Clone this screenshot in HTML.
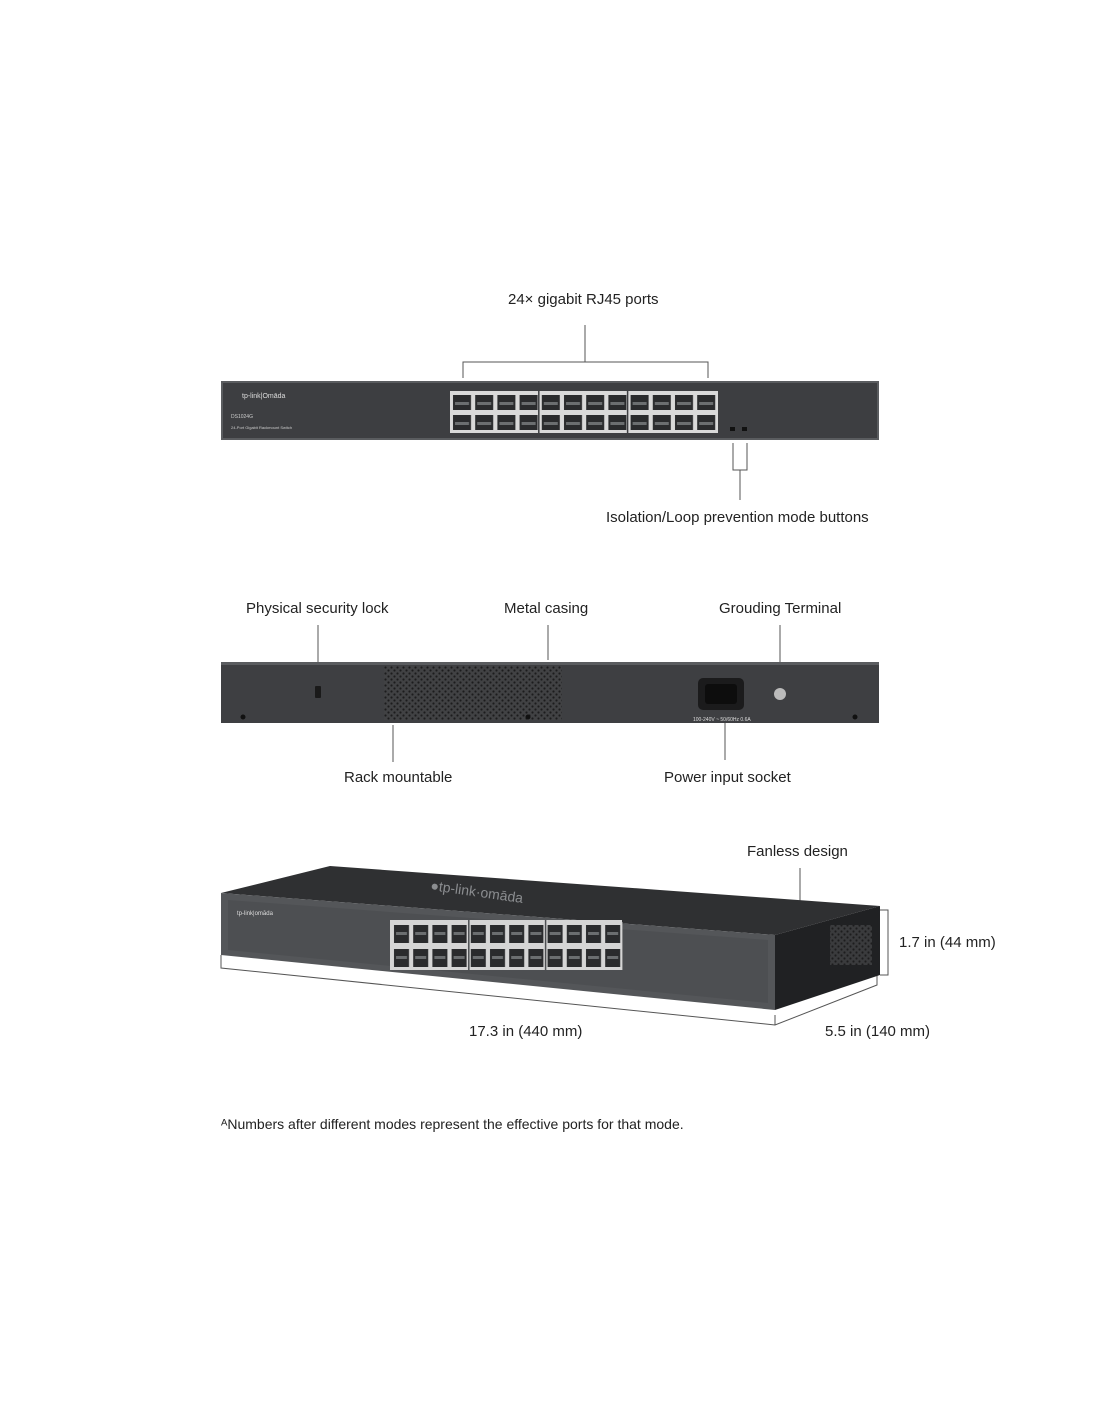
<!DOCTYPE html>
<html><head><meta charset="utf-8"><style>
html,body{margin:0;padding:0;background:#fff;}
body{width:1100px;height:1422px;position:relative;overflow:hidden;font-family:"Liberation Sans",sans-serif;color:#222;}
.l{position:absolute;font-size:15px;white-space:nowrap;}
svg{position:absolute;left:0;top:0;}
</style></head><body>
<svg width="1100" height="1422" viewBox="0 0 1100 1422">
<defs>
<pattern id="pf" x="451" y="393" width="22.2" height="20" patternUnits="userSpaceOnUse">
<rect x="0" y="0" width="22.2" height="20" fill="#d9d9d9"/>
<rect x="2" y="2" width="18" height="15" fill="#2a2b2d"/>
<rect x="4" y="9" width="14" height="3" fill="#6b6e70"/>
</pattern>
<pattern id="p3" x="392" y="922" width="19.2" height="24" patternUnits="userSpaceOnUse">
<rect x="0" y="0" width="19.2" height="24" fill="#d5d5d5"/>
<rect x="2" y="3" width="15" height="18" fill="#2a2b2d"/>
<rect x="4" y="10" width="11" height="3" fill="#6b6e70"/>
</pattern>
<pattern id="hex" x="0" y="0" width="6" height="6" patternUnits="userSpaceOnUse">
<rect width="6" height="6" fill="#414244"/>
<circle cx="1.5" cy="1.5" r="1.1" fill="#1c1c1d"/>
<circle cx="4.5" cy="4.5" r="1.1" fill="#1c1c1d"/>
</pattern>
</defs>
<g stroke="#555" stroke-width="1" fill="none">
<!-- top bracket -->
<path d="M585 325V362M463 378V362H708V378"/>
<path d="M733 443V470H747V443M740 470V500"/>
<path d="M318 625V685M548 625V660M780 625V688M393 725V762M725 715V760"/>
<path d="M800 868V925"/>
<path d="M880 910H888V975H880"/>
<path d="M221 955V968L775 1025L877 985V975M775 1015V1025"/>
</g>
<!-- front panel -->
<rect x="221" y="381" width="658" height="59" fill="#5a5c5f"/>
<rect x="223" y="383" width="654" height="55" fill="#3d3e41"/>
<rect x="450" y="391" width="268" height="42" fill="#d9d9d9"/>
<rect x="451" y="393" width="266.4" height="40" fill="url(#pf)"/>
<path d="M538.8 391V433M627.6 391V433" stroke="#3d3e41" stroke-width="1.5"/>
<text x="242" y="398" font-size="7" fill="#ddd">tp-link|Omāda</text>
<text x="231" y="418" font-size="5" fill="#ccc">DS1024G</text>
<text x="231" y="429" font-size="4" fill="#ccc">24-Port Gigabit Rackmount Switch</text>
<rect x="730" y="427" width="5" height="4" fill="#111"/><rect x="742" y="427" width="5" height="4" fill="#111"/>
<!-- rear panel -->
<rect x="221" y="662" width="658" height="61" fill="#3e3f42"/>
<rect x="221" y="662" width="658" height="3" fill="#5a5c5f"/>
<rect x="384" y="666" width="178" height="54" fill="url(#hex)"/>
<rect x="315" y="686" width="6" height="12" rx="1" fill="#1a1a1a"/>
<rect x="698" y="678" width="46" height="32" rx="5" fill="#1b1b1c"/>
<rect x="705" y="684" width="32" height="20" rx="3" fill="#0d0d0d"/>
<text x="693" y="721" font-size="5" fill="#ddd">100-240V ~ 50/60Hz 0.6A</text>
<circle cx="780" cy="694" r="6" fill="#bbb"/>
<circle cx="243" cy="717" r="2.5" fill="#111"/><circle cx="528" cy="717" r="2.5" fill="#111"/><circle cx="855" cy="717" r="2.5" fill="#111"/>
<!-- 3D -->
<polygon points="221,893 330,866 880,906 775,935" fill="#2f3032"/>
<polygon points="775,935 880,906 880,975 775,1010" fill="#202123"/>
<rect x="830" y="925" width="42" height="40" fill="url(#hex)" opacity="0.8"/>
<polygon points="221,893 775,935 775,1010 221,955" fill="#545659"/>
<polygon points="228,900 768,940 768,1003 228,950" fill="#4d4f52"/>
<text x="430" y="890" font-size="14" fill="#8b8d90" transform="rotate(8 430 890)">●tp-link·omāda</text>
<text x="237" y="915" font-size="6" fill="#ddd">tp-link|omāda</text>
<rect x="390" y="920" width="232" height="50" fill="#d5d5d5"/>
<rect x="392" y="922" width="230.4" height="48" fill="url(#p3)"/>
<path d="M468.8 920V970M545.6 920V970" stroke="#4d4f52" stroke-width="1.5"/>
</svg>
<div class="l" style="left:508px;top:291px">24× gigabit RJ45 ports</div>
<div class="l" style="left:606px;top:509px">Isolation/Loop prevention mode buttons</div>
<div class="l" style="left:246px;top:600px">Physical security lock</div>
<div class="l" style="left:504px;top:600px">Metal casing</div>
<div class="l" style="left:719px;top:600px">Grouding Terminal</div>
<div class="l" style="left:344px;top:769px">Rack mountable</div>
<div class="l" style="left:664px;top:769px">Power input socket</div>
<div class="l" style="left:747px;top:843px">Fanless design</div>
<div class="l" style="left:899px;top:934px">1.7 in (44 mm)</div>
<div class="l" style="left:469px;top:1023px">17.3 in (440 mm)</div>
<div class="l" style="left:825px;top:1023px">5.5 in (140 mm)</div>
<div class="l" style="left:221px;top:1116px;font-size:14px">ᴬNumbers after different modes represent the effective ports for that mode.</div>
</body></html>
